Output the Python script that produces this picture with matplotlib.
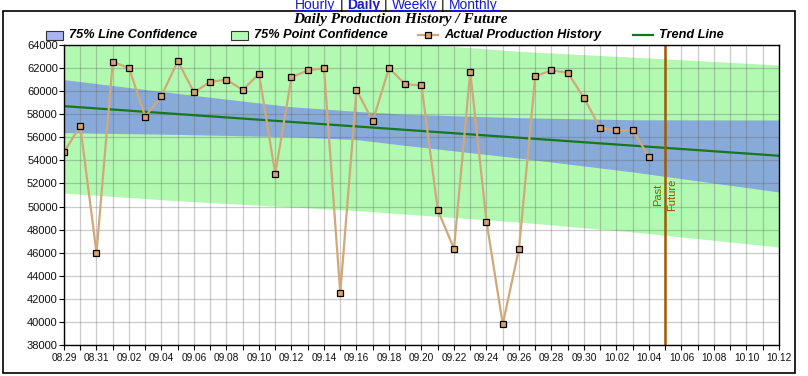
import numpy as np
import pandas as pd
import matplotlib
matplotlib.use("Agg")
import matplotlib.pyplot as plt
import matplotlib.dates as mdates
from matplotlib.patches import Rectangle
from matplotlib.lines import Line2D

# daily production history (mm.dd)
prod_dates = ['08.29', '08.30', '08.31',
              '09.01', '09.02', '09.03', '09.04', '09.05', '09.06', '09.07', '09.08', '09.09', '09.10',
              '09.11', '09.12', '09.13', '09.14', '09.15', '09.16', '09.17', '09.18', '09.19', '09.20',
              '09.21', '09.22', '09.23', '09.24', '09.25', '09.26', '09.27', '09.28', '09.29', '09.30',
              '10.01', '10.02', '10.03', '10.04']
prod_values = [54700, 57000, 46000,
               62550, 62000, 57800, 59600, 62600, 59900, 60800, 61000, 60100, 61500,
               52850, 61200, 61800, 62000, 42500, 60100, 57400, 62000, 60600, 60500,
               49700, 46350, 61700, 48700, 39800, 46350, 61300, 61800, 61600, 59400,
               56800, 56600, 56600, 54300]

# confidence bands / trend read at a few dates
band_dates = ['08.29', '09.05', '09.12', '09.16', '09.19', '09.26', '10.03', '10.12']
line_conf_upper = [61000, 59800, 58650, 58250, 58000, 57700, 57520, 57500]
line_conf_lower = [56400, 56250, 56050, 55800, 55300, 54200, 53000, 51260]
point_conf_upper = [66200, 65500, 64800, 64450, 64200, 63450, 62950, 62270]
point_conf_lower = [51170, 50500, 49960, 49650, 49350, 48650, 47800, 46490]

trend_dates = ['08.29', '10.12']
trend_values = [58700, 54400]

now_date = '10.05'
x_start, x_end = '08.29', '10.12'
y_min, y_max = 38000, 64000

nav_links = ['Hourly', 'Daily', 'Weekly', 'Monthly']


def to_dt(labels):
    return pd.to_datetime(['2008.' + s for s in labels], format='%Y.%m.%d')


W, H = 808, 376
fig = plt.figure(figsize=(W / 100, H / 100), dpi=100)
ax = fig.add_axes([64 / W, 1 - 345 / H, (779 - 64) / W, 300 / H])

bd = to_dt(band_dates)
ax.fill_between(bd, point_conf_lower, point_conf_upper, color='#b2f9b2', lw=0, zorder=1)
ax.fill_between(bd, line_conf_lower, line_conf_upper, color='#88aad8', lw=0, zorder=1.1)

ax.plot(to_dt(trend_dates), trend_values, color='#15781a', lw=1.6, zorder=3)
ax.plot(to_dt(prod_dates), prod_values, color='#d2a878', lw=1.6, marker='s', ms=5,
        mfc='#d4a373', mec='black', mew=0.9, zorder=4)

now = to_dt([now_date])[0]
ax.axvline(now, color='#a05a00', lw=1.8, zorder=5)
ax.text(now - pd.Timedelta(hours=10), 51000, 'Past', rotation=90, ha='center', va='center',
        fontsize=8, color='#8b5a00', family='Liberation Sans', zorder=5)
ax.text(now + pd.Timedelta(hours=10), 51000, 'Future', rotation=90, ha='center', va='center',
        fontsize=8, color='#8b5a00', family='Liberation Sans', zorder=5)

x0, x1 = to_dt([x_start, x_end])
ax.set_xlim(x0, x1)
ax.set_ylim(y_min, y_max)
ax.set_xticks(pd.date_range(x0, x1, freq='2D'))
ax.set_xticks(pd.date_range(x0, x1, freq='1D'), minor=True)
ax.xaxis.set_major_formatter(mdates.DateFormatter('%m.%d'))
ax.set_yticks(np.arange(y_min, y_max + 1, 2000))

ax.set_axisbelow(False)
ax.grid(True, which='both', axis='x', color='#606060', alpha=0.32, lw=0.9)
ax.grid(True, which='major', axis='y', color='#606060', alpha=0.32, lw=0.9)

ax.tick_params(axis='both', which='both', direction='out', length=3.5, width=0.8, color='black')
ax.tick_params(axis='x', labelsize=7.3, pad=2)
ax.tick_params(axis='y', labelsize=8, pad=1)
for lab in ax.get_xticklabels() + ax.get_yticklabels():
    lab.set_family('Liberation Sans')
    lab.set_color('#111111')
for s in ax.spines.values():
    s.set_color('black')
    s.set_linewidth(1.0)
    s.set_zorder(6)


def fx(px):
    return px / W


def fy(py):
    return 1 - py / H


# outer frame
fig.add_artist(Rectangle((fx(3), fy(373)), (795 - 3) / W, (373 - 11) / H, transform=fig.transFigure,
                         fill=False, ec='black', lw=1.2))

# navigation links
fig.canvas.draw()
renderer = fig.canvas.get_renderer()
xpos = 295
for i, name in enumerate(nav_links):
    t = fig.text(fx(xpos), fy(8.5), name, fontsize=10, color='#1a1acc', family='Liberation Sans',
                 fontweight='bold' if name == 'Daily' else 'normal', va='baseline', ha='left')
    bb = t.get_window_extent(renderer)
    fig.add_artist(Line2D([bb.x0 / W, bb.x1 / W], [fy(9.6)] * 2, transform=fig.transFigure,
                          color='#1a1acc', lw=0.8))
    xpos = bb.x1 + 4
    if i < len(nav_links) - 1:
        s = fig.text(fx(xpos), fy(8.5), '|', fontsize=10, color='black', family='Liberation Sans',
                     va='baseline', ha='left')
        xpos = s.get_window_extent(renderer).x1 + 4

fig.text(fx(400), fy(19), 'Daily Production History / Future', fontsize=11, fontweight='bold',
         fontstyle='italic', family='Liberation Serif', ha='center', va='center')

# legend row
ly = fy(35)
leg_font = dict(fontsize=9.2, fontweight='bold', fontstyle='italic', family='Liberation Sans',
                va='center', ha='left')
fig.add_artist(Rectangle((fx(46), fy(39.5)), 17 / W, 9 / H, transform=fig.transFigure,
                         fc='#aab4f2', ec='#333333', lw=0.8))
fig.text(fx(69), ly, '75% Line Confidence', **leg_font)
fig.add_artist(Rectangle((fx(231), fy(39.5)), 17 / W, 9 / H, transform=fig.transFigure,
                         fc='#b4fab4', ec='#333333', lw=0.8))
fig.text(fx(254), ly, '75% Point Confidence', **leg_font)
fig.add_artist(Line2D([fx(418), fx(438)], [ly, ly], transform=fig.transFigure, color='#d2a878', lw=1.6))
fig.add_artist(Line2D([fx(428)], [ly], transform=fig.transFigure, marker='s', ms=5,
                      mfc='#d4a373', mec='black', mew=0.9))
fig.text(fx(444), ly, 'Actual Production History', **leg_font)
fig.add_artist(Line2D([fx(633), fx(653)], [ly, ly], transform=fig.transFigure, color='#15781a', lw=1.6))
fig.text(fx(659), ly, 'Trend Line', **leg_font)

fig.savefig('out.png', dpi=100)
